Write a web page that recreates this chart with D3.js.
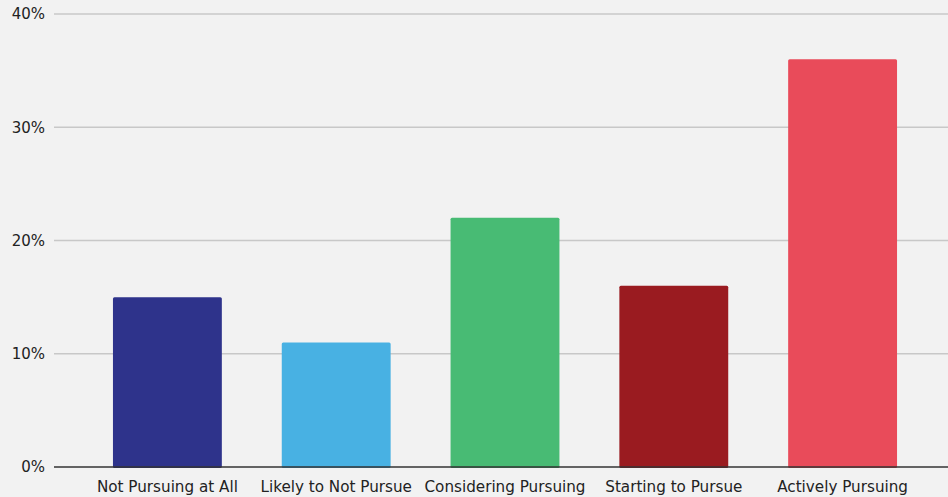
<!DOCTYPE html>
<html>
<head>
<meta charset="utf-8">
<script src="https://cdn.jsdelivr.net/npm/d3@7"></script>
<style>
  html, body { margin: 0; padding: 0; background: #f2f2f2; }
  svg { display: block; font-family: "DejaVu Sans", sans-serif; }
</style>
</head>
<body>
<svg id="chart" width="948" height="497"></svg>
<script>
// chart data
var categories = ["Not Pursuing at All", "Likely to Not Pursue", "Considering Pursuing", "Starting to Pursue", "Actively Pursuing"];
var values = [15, 11, 22, 16, 36];
var colors = ["#2e338b", "#48b1e3", "#48bb74", "#9a1b20", "#e94b5a"];
var yTicks = [0, 10, 20, 30, 40];

var svg = d3.select("#chart"),
    margin = { top: 14, right: 0, bottom: 30, left: 54 },
    width = +svg.attr("width"),
    height = +svg.attr("height");

svg.append("rect").attr("width", width).attr("height", height).attr("fill", "#f2f2f2");

var x = d3.scaleBand()
    .domain(categories)
    .range([83, 927])
    .paddingInner(0.355)
    .paddingOuter(0.1775);

var y = d3.scaleLinear()
    .domain([0, 40])
    .range([467, margin.top]);

// grid lines
svg.append("g")
    .selectAll("line")
    .data(yTicks.slice(1))
    .enter()
    .append("line")
    .attr("x1", margin.left)
    .attr("x2", width)
    .attr("y1", function (d) { return y(d); })
    .attr("y2", function (d) { return y(d); })
    .attr("stroke", "#c8c8c8")
    .attr("stroke-width", 1.5);

// y axis labels
var yAxis = svg.append("g")
    .attr("transform", "translate(" + margin.left + ",0)")
    .call(d3.axisLeft(y).tickValues(yTicks).tickFormat(function (d) { return d + "%"; }).tickSize(0).tickPadding(9));
yAxis.select(".domain").remove();
yAxis.selectAll("text").attr("font-size", 15).attr("fill", "#222").attr("font-family", "DejaVu Sans, sans-serif");

// bars
svg.append("g")
    .selectAll("rect")
    .data(values)
    .enter()
    .append("rect")
    .attr("x", function (d, i) { return x(categories[i]); })
    .attr("width", x.bandwidth())
    .attr("y", function (d) { return y(d); })
    .attr("height", function (d) { return y(0) - y(d) + 1; })
    .attr("rx", 1.5)
    .attr("fill", function (d, i) { return colors[i]; });

// x axis
var xAxis = svg.append("g")
    .attr("transform", "translate(0," + y(0) + ")")
    .call(d3.axisBottom(x).tickSize(0).tickPadding(14));
xAxis.select(".domain").remove();
xAxis.selectAll("text").attr("font-size", 15.2).attr("fill", "#222").attr("font-family", "DejaVu Sans, sans-serif");

svg.append("line")
    .attr("x1", margin.left)
    .attr("x2", width)
    .attr("y1", y(0))
    .attr("y2", y(0))
    .attr("stroke", "#333")
    .attr("stroke-width", 1.5);
</script>
</body>
</html>
